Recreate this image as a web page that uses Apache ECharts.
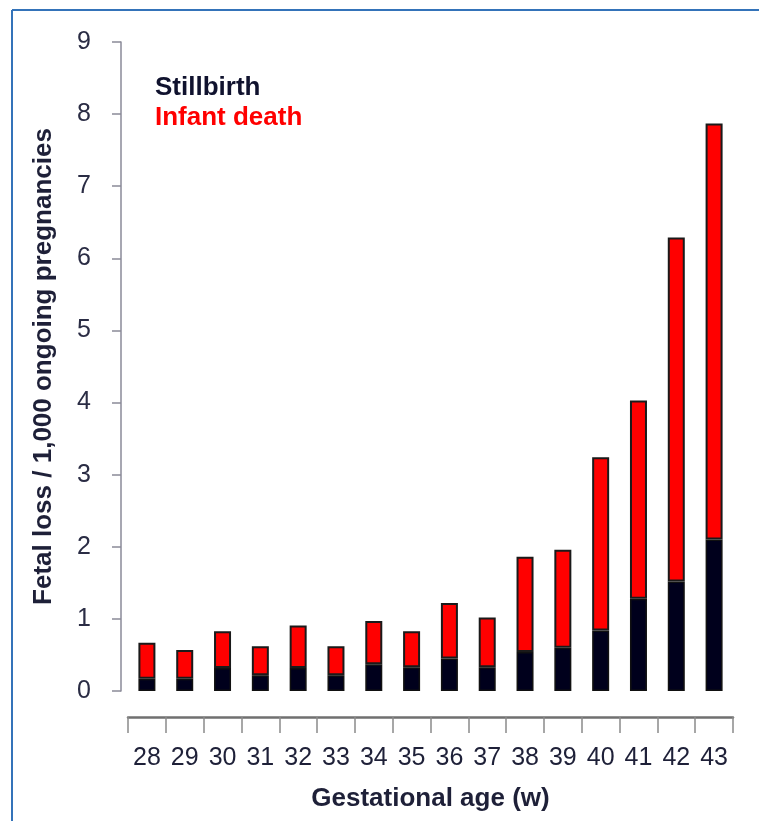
<!DOCTYPE html>
<html>
<head>
<meta charset="utf-8">
<script src="https://cdn.jsdelivr.net/npm/echarts@6/dist/echarts.min.js"></script>
<style>
html,body{margin:0;padding:0;background:#fff;}
#chart{width:759px;height:821px;}
</style>
</head>
<body>
<div id="chart"></div>
<script>
const weeks = ['28','29','30','31','32','33','34','35','36','37','38','39','40','41','42','43'];
const stillbirth = [0.17,0.17,0.32,0.22,0.32,0.22,0.37,0.33,0.45,0.33,0.54,0.60,0.84,1.28,1.52,2.10];
const infantDeath = [0.50,0.40,0.51,0.40,0.59,0.40,0.60,0.50,0.77,0.69,1.32,1.36,2.40,2.75,4.77,5.77];
const yTicks = {min:0, max:9, interval:1};

const FONT = '"Liberation Sans", Arial, sans-serif';
const chart = echarts.init(document.getElementById('chart'), null, {renderer:'canvas'});
chart.setOption({
  animation:false,
  backgroundColor:'#fff',
  textStyle:{fontFamily:FONT},
  graphic:[
    {type:'line', shape:{x1:12,y1:10,x2:759,y2:10}, style:{stroke:'#3473b9', lineWidth:2}},
    {type:'line', shape:{x1:12,y1:10,x2:12,y2:821}, style:{stroke:'#3473b9', lineWidth:2}}
  ],
  legend:{
    orient:'vertical', left:145, top:70, itemGap:4,
    itemWidth:0, itemHeight:0, icon:'none',
    selectedMode:false,
    data:[
      {name:'Stillbirth', textStyle:{color:'#10122e'}},
      {name:'Infant death', textStyle:{color:'#ff0000'}}
    ],
    textStyle:{fontFamily:FONT, fontSize:26, fontWeight:'bold', padding:0}
  },
  grid:{left:128, right:26, top:42, bottom:130},
  xAxis:{
    type:'category', data:weeks, offset:26,
    boundaryGap:true,
    axisLine:{onZero:false, lineStyle:{color:'#707070', width:2.5}},
    axisTick:{show:true, length:16, lineStyle:{color:'#8a8a8a', width:1.5}},
    axisLabel:{color:'#1e2038', fontSize:25, margin:29, fontFamily:FONT},
    name:'Gestational age (w)', nameLocation:'middle', nameGap:69,
    nameTextStyle:{color:'#1e2038', fontSize:26, fontWeight:'bold', fontFamily:FONT}
  },
  yAxis:{
    type:'value', min:yTicks.min, max:yTicks.max, interval:yTicks.interval, offset:7,
    splitLine:{show:false},
    axisLine:{show:true, lineStyle:{color:'#8a8a98', width:1.5}},
    axisTick:{show:true, length:9, lineStyle:{color:'#8a8a98', width:1.5}},
    axisLabel:{color:'#2a2c44', fontSize:25, margin:30, fontFamily:FONT},
    name:'Fetal loss / 1,000 ongoing pregnancies', nameLocation:'middle', nameGap:64,
    nameRotate:90,
    nameTextStyle:{color:'#1e2038', fontSize:26, fontWeight:'bold', fontFamily:FONT}
  },
  series:[
    {name:'Stillbirth', type:'bar', stack:'t', data:stillbirth, barWidth:17,
     itemStyle:{color:'#00001c', borderColor:'#111', borderWidth:1.5}},
    {name:'Infant death', type:'bar', stack:'t', data:infantDeath, barWidth:17,
     itemStyle:{color:'#ff0000', borderColor:'#1a1a1a', borderWidth:2}}
  ]
});
</script>
</body>
</html>
